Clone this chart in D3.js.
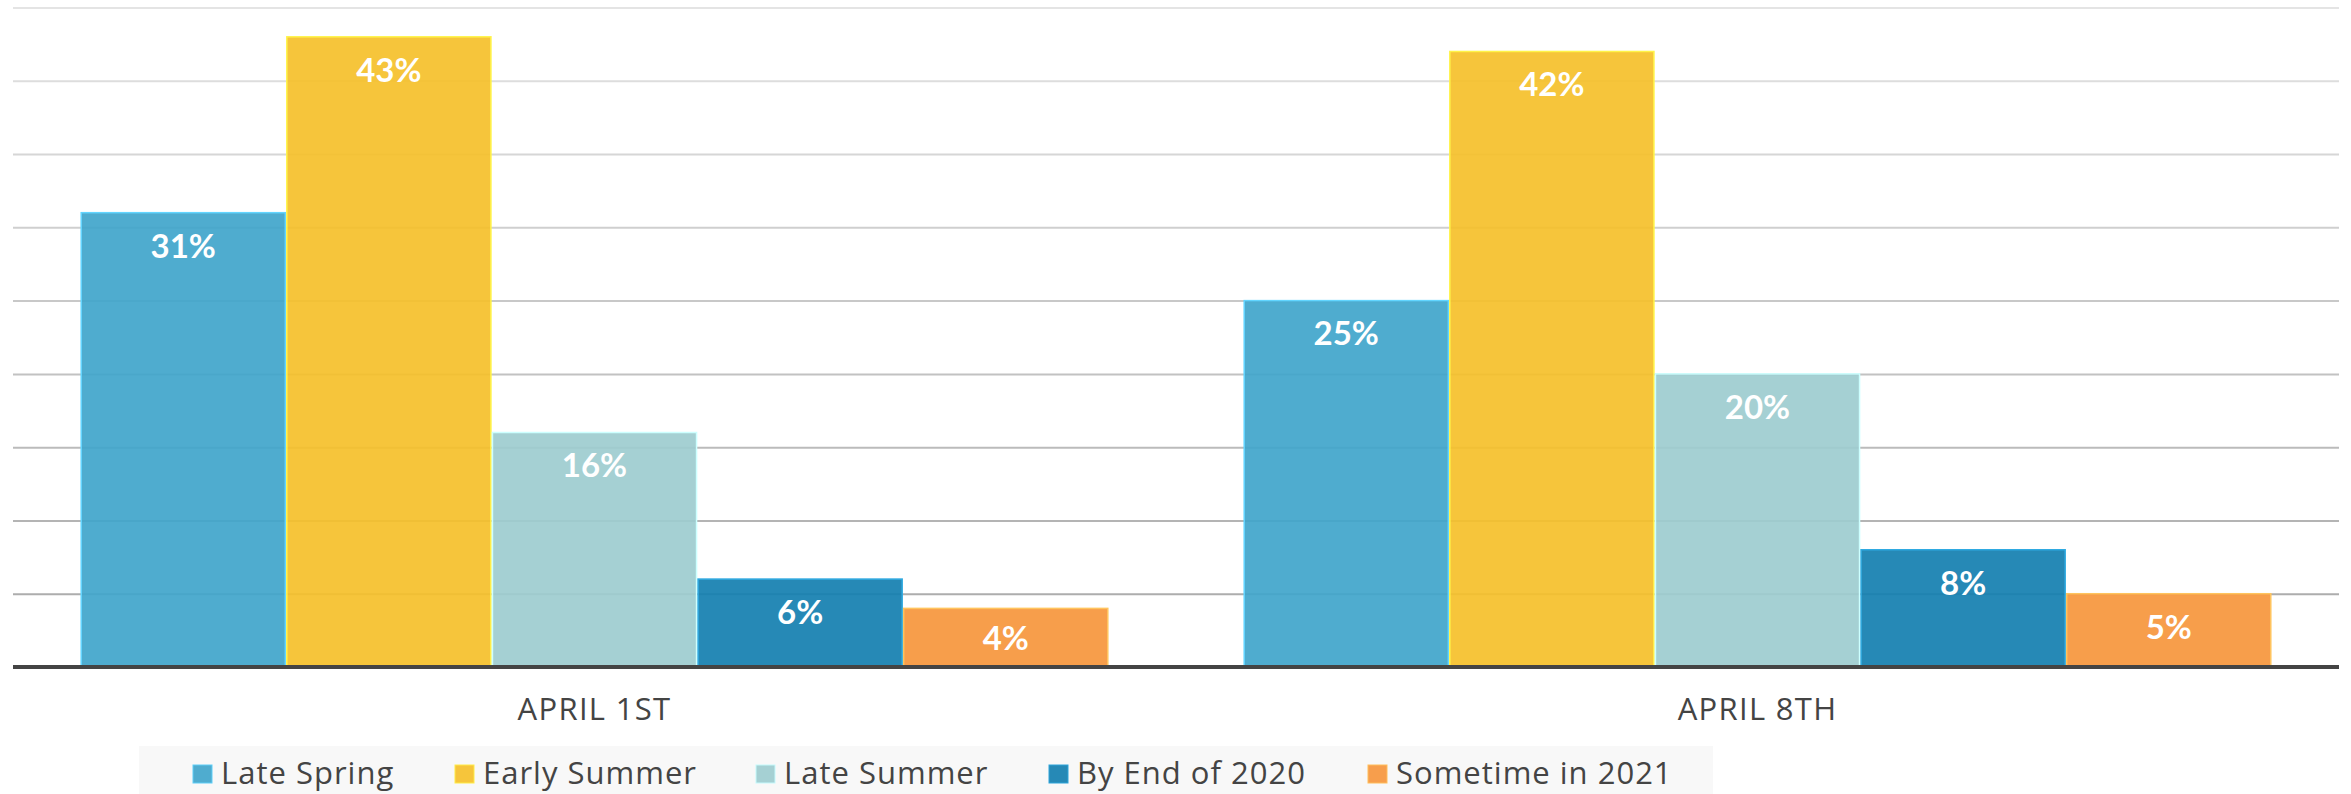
<!DOCTYPE html>
<html>
<head>
<meta charset="utf-8">
<script src="https://cdn.jsdelivr.net/npm/d3@7"></script>
<style>
  html, body { margin: 0; padding: 0; background: #fff; }
  svg { display: block; }
</style>
</head>
<body>
<svg id="chart" width="2351" height="794"></svg>
<script>
const categories = ["APRIL 1ST", "APRIL 8TH"];
const seriesNames = ["Late Spring", "Early Summer", "Late Summer", "By End of 2020", "Sometime in 2021"];
const lateSpring = [31, 25];
const earlySummer = [43, 42];
const lateSummer = [16, 20];
const byEnd2020 = [6, 8];
const sometime2021 = [4, 5];
const seriesValues = [lateSpring, earlySummer, lateSummer, byEnd2020, sometime2021];
const yTicks = [0, 5, 10, 15, 20, 25, 30, 35, 40, 45];
const colors = ["#40A5CB", "#F5C02A", "#9DCCCF", "#137FB0", "#F6963C"];
const legendSwatch = ["#4FACCF", "#F6C53B", "#A5D0D3", "#2689B6", "#F79E4C"];

const svg = d3.select("#chart");
const plotLeft = 13, plotRight = 2339, plotTop = 7.5, plotBase = 667;

const x0 = d3.scaleBand().domain(categories).range([plotLeft, plotRight]).paddingInner(0.116).paddingOuter(0.058);
const x1 = d3.scaleBand().domain(seriesNames).range([0, x0.bandwidth()]).padding(0);
const y = d3.scaleLinear().domain([0, 45]).range([plotBase, plotTop]);
const gridColor = d3.scaleLinear().domain([45, 0]).range(["#e4e4e4", "#a6a6a6"]);

// gridlines
const grid = svg.append("g").attr("transform", `translate(${plotLeft},0)`)
  .call(d3.axisLeft(y).tickValues(yTicks).tickSize(-(plotRight - plotLeft)).tickFormat(""));
grid.select(".domain").remove();
grid.selectAll(".tick line").attr("stroke", d => gridColor(d)).attr("stroke-width", 2);

// bars
const groups = svg.append("g").selectAll("g")
  .data(categories).join("g")
  .attr("transform", d => `translate(${x0(d)},0)`);

groups.selectAll("rect")
  .data((c, ci) => seriesNames.map((s, si) => ({ s, si, v: seriesValues[si][ci] })))
  .join("rect")
  .attr("x", d => x1(d.s) + 0.75)
  .attr("width", x1.bandwidth() - 1.5)
  .attr("y", d => y(d.v))
  .attr("height", d => plotBase - y(d.v))
  .attr("fill", d => colors[d.si])
  .attr("fill-opacity", 0.92)
  .attr("stroke", d => d3.color(legendSwatch[d.si]).brighter(0.6))
  .attr("stroke-width", 1.5);

groups.selectAll("text.val")
  .data((c, ci) => seriesNames.map((s, si) => ({ s, si, v: seriesValues[si][ci] })))
  .join("text")
  .attr("class", "val")
  .attr("x", d => x1(d.s) + x1.bandwidth() / 2)
  .attr("y", d => Math.min(y(d.v) + 33, (y(d.v) + plotBase) / 2))
  .attr("dy", "0.36em")
  .attr("text-anchor", "middle")
  .attr("fill", "#fff")
  .style("font-family", "Lato, sans-serif")
  .style("font-weight", "700")
  .style("font-size", "33px")
  .text(d => d.v + "%");

// x axis
const xAxis = svg.append("g").attr("transform", `translate(0,${plotBase})`)
  .call(d3.axisBottom(x0).tickSize(0).tickPadding(31));
xAxis.select(".domain").attr("stroke", "#444").attr("stroke-width", 4)
  .attr("d", `M${plotLeft},0H${plotRight}`);
xAxis.selectAll(".tick text")
  .attr("fill", "#444")
  .style("font-family", "'Open Sans', sans-serif")
  .style("font-size", "31px")
  .style("letter-spacing", "1.3px")
  .attr("dy", "0.71em");

// legend
const legend = svg.append("g");
legend.append("rect").attr("x", 139).attr("y", 746).attr("width", 1574).attr("height", 60).attr("fill", "#f8f8f8");
const legendX = [193, 455, 756, 1049, 1368];
const items = legend.selectAll("g.item").data(seriesNames).join("g")
  .attr("class", "item")
  .attr("transform", (d, i) => `translate(${legendX[i]},765)`);
items.append("rect").attr("width", 19).attr("height", 18)
  .attr("fill", (d, i) => legendSwatch[i])
  .attr("stroke", (d, i) => d3.color(legendSwatch[i]).brighter(0.5))
  .attr("stroke-width", 1);
items.append("text")
  .attr("x", 28).attr("y", 19)
  .attr("fill", "#444")
  .style("font-family", "'Open Sans', sans-serif")
  .style("font-size", "31px")
  .style("letter-spacing", "1px")
  .text(d => d);
</script>
</body>
</html>
